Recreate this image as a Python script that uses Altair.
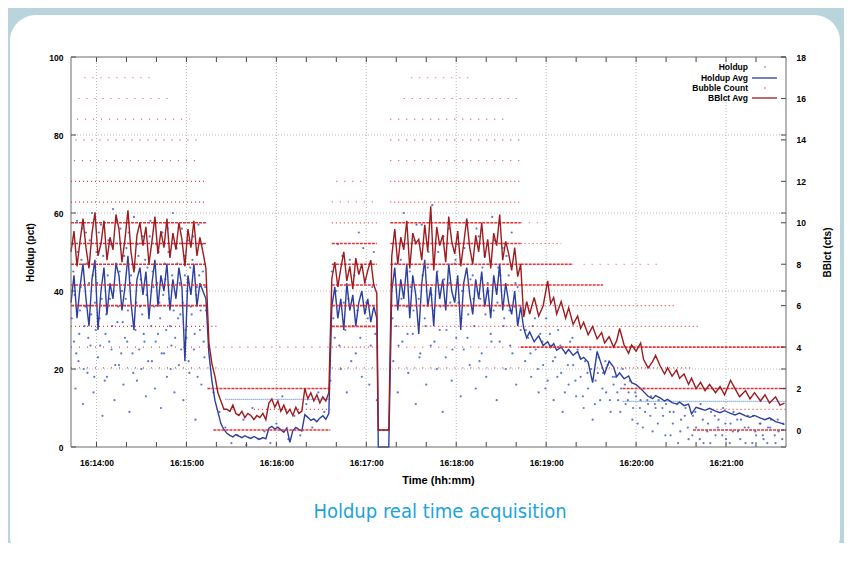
import altair as alt
import pandas as pd

# Times are seconds relative to 16:14:00
BASE = pd.Timestamp("2023-05-10 16:14:00")

avg_t = [
    -17, -15, -13, -11, -9, -7, -5, -3, -1, 1, 3, 5, 7, 9, 11, 13, 15, 17, 19, 21, 23, 25, 27, 29, 31,
    33, 35, 37, 39, 41, 43, 45, 47, 49, 51, 53, 55, 57, 59, 61, 63, 65, 67, 69, 71, 73,
    75, 77, 79, 81, 83, 85,
    87, 89, 91, 93, 95, 97, 99, 101, 103, 105, 107, 109, 111, 113, 115, 117, 119, 121, 123, 125,
    127, 129, 131, 133, 135, 137, 139, 141, 143, 145, 147, 149, 151, 153, 155,
    157, 159, 161, 163, 165, 167, 169, 171, 173, 175, 177, 179, 181, 183, 185, 187,
    188, 195,
    197, 199, 201, 203, 205, 207, 209, 211, 213, 215, 217, 219, 221, 223, 225, 227, 229, 231, 233, 235,
    237, 239, 241, 243, 245, 247, 249, 251, 253, 255, 257, 259, 261, 263, 265, 267, 269, 271, 273, 275,
    277, 279, 281, 283,
    285, 287, 289, 292, 295, 298, 301, 303, 305, 307, 310, 313, 315, 318, 321, 323, 325, 328, 331, 334,
    337, 339, 342, 345, 347, 349, 352, 355, 357, 360, 363, 365, 368, 371, 373, 376, 379, 381, 384, 387,
    389, 392, 395, 397, 400, 403, 406, 409, 413, 416, 419, 423, 426, 429, 433, 436, 439, 443, 446, 449,
    453, 456, 459,
]

holdup_avg = [
    37, 44, 33, 41, 47, 38, 31, 43, 48, 30, 40, 46, 34, 42, 38, 47, 44, 35, 41, 49, 37, 30, 43, 46, 39,
    45, 33, 42, 48, 36, 44, 40, 47, 35, 43, 38, 46, 41, 22, 44, 39, 47, 36, 42, 40, 38,
    24, 17, 12, 9, 6, 4.5,
    3.5, 3.0, 2.6, 3.2, 2.8, 2.4, 2.9, 2.5, 2.2, 2.7, 2.3, 2.0, 2.4, 2.1, 4.8, 5.3, 4.6, 5.1, 4.4, 3.8,
    4.9, 1.2, 4.2, 5.0, 4.5, 4.1, 8.3, 7.6, 6.8, 7.2, 6.5, 7.4, 8.0, 7.1, 8.6,
    36, 41, 33, 38, 30, 42, 35, 39, 31, 37, 40, 34, 38, 32, 36, 33,
    0, 0,
    40, 46, 35, 43, 38, 47, 33, 44, 39, 29, 42, 48, 36, 41, 31, 45, 38, 43, 35, 47,
    40, 37, 44, 30, 42, 46, 39, 34, 43, 38, 45, 36, 41, 33, 44, 39, 47, 35, 42, 37,
    34, 40, 31, 36,
    30.5, 28, 29.5, 27, 28.5, 26, 27, 25.5, 26.5, 24.8, 25.6, 24, 25, 23.5, 24.5, 22.5, 23, 21.8, 16.5, 24.5,
    21, 18.8, 22, 20.5, 18, 19, 17.5, 18.2, 16.5, 16, 15, 14.2, 13, 12.4, 13.2, 12.6, 11.8, 12.2, 11.4, 11.0,
    11.5, 10.6, 11.0, 8.5, 10.2, 9.8, 9.4, 9.9, 9.2, 8.8, 9.3, 8.6, 8.2, 8.7, 8.0, 7.6, 8.1, 7.4, 7.0, 7.5,
    6.5, 6.2, 5.8,
]

bblct_avg = [
    8.6, 9.6, 7.9, 9.1, 10.2, 8.8, 7.8, 9.5, 10.5, 8.4, 9.0, 10.1, 8.2, 9.3, 8.7, 10.4, 9.7, 8.1, 9.2, 10.6,
    8.6, 7.6, 9.4, 10.0, 8.9, 9.8, 8.0, 9.1, 10.3, 8.5, 9.6, 8.8, 10.2, 8.3, 9.5, 8.7, 10.0, 9.2, 7.9, 9.7,
    8.8, 10.1, 8.4, 9.3, 8.6, 7.8,
    4.2, 3.2, 2.6, 1.8, 1.4, 1.0,
    1.0, 0.9, 1.2, 0.8, 0.7, 0.9, 0.6, 0.8, 0.7, 0.5, 0.7, 0.6, 0.8, 0.5, 1.3, 1.5, 1.1, 1.4, 0.9, 1.2,
    0.8, 1.0, 0.7, 1.1, 0.8, 0.9, 2.0, 1.5, 1.8, 1.4, 1.7, 1.3, 1.6, 1.4, 1.8,
    7.3, 8.1, 6.9, 7.8, 8.6, 7.2, 7.9, 6.8, 8.3, 7.5, 8.0, 7.1, 7.7, 8.2, 7.0, 6.6,
    0, 0,
    8.4, 9.7, 8.0, 9.3, 8.7, 10.1, 7.8, 9.5, 9.0, 9.2, 8.2, 9.9, 8.6, 10.8, 7.7, 9.8, 8.9, 9.4, 8.1, 10.3,
    9.1, 8.5, 9.6, 7.9, 9.0, 10.2, 8.8, 8.0, 9.4, 8.6, 10.0, 8.3, 9.2, 7.8, 9.5, 8.9, 10.4, 8.2, 9.1, 8.5,
    7.7, 8.8, 7.4, 8.0,
    5.45, 6.2, 5.6, 6.4, 5.5, 6.0, 7.2, 6.1, 6.4, 5.6, 6.2, 5.4, 5.9, 5.1, 5.5, 4.9, 5.2, 4.6, 5.0, 4.4,
    4.7, 4.2, 4.5, 4.0, 4.3, 4.9, 4.1, 3.7, 4.1, 3.8, 4.2, 3.4, 3.0, 3.3, 3.6, 3.1, 2.7, 3.0, 2.6, 2.9,
    2.5, 2.7, 2.2, 2.5, 2.0, 2.3, 1.9, 2.2, 1.8, 2.1, 1.7, 2.4, 2.0, 1.6, 1.9, 1.5, 1.8, 1.4, 1.7, 1.3,
    1.6, 1.2, 1.3,
]

# Raw holdup samples (time s, holdup pct)
holdup_points = [
    (-16, 52), (-15, 27), (-14, 15), (-13, 58), (-12, 22), (-11, 35), (-10, 48), (-9, 11), (-8, 31), (-7, 55),
    (-6, 19), (-5, 42), (-4, 26), (-3, 60), (-2, 14), (-1, 37), (0, 50), (1, 23), (2, 33), (3, 57), (4, 8),
    (5, 45), (6, 29), (7, 18), (8, 53), (9, 38), (10, 25), (11, 61), (12, 12), (13, 47), (14, 32), (15, 21),
    (16, 56), (17, 40), (18, 16), (19, 28), (20, 51), (21, 35), (22, 9), (23, 44), (24, 24), (25, 59),
    (26, 30), (27, 17), (28, 49), (29, 36), (30, 20), (31, 54), (32, 27), (33, 13), (34, 46), (35, 33),
    (36, 58), (37, 22), (38, 41), (39, 15), (40, 52), (41, 29), (42, 37), (43, 10), (44, 55), (45, 24),
    (46, 43), (47, 18), (48, 50), (49, 31), (50, 26), (51, 60), (52, 14), (53, 39), (54, 47), (55, 21),
    (56, 34), (57, 56), (58, 12), (59, 44), (60, 28), (61, 53), (62, 19), (63, 36), (64, 48), (65, 25),
    (66, 7), (67, 41), (68, 57), (69, 30), (70, 16), (71, 45), (72, 23), (73, 35),
    (-16.5, 33), (-15.5, 45), (-14.5, 39), (-13.5, 24), (-12.5, 50), (-11.5, 29), (-10.5, 41), (-9.5, 56),
    (-8.5, 20), (-7.5, 36), (-6.5, 47), (-5.5, 28), (-4.5, 53), (-3.5, 34), (-2.5, 44), (-1.5, 18),
    (-0.5, 30), (0.5, 42), (1.5, 55), (2.5, 26), (3.5, 38), (4.5, 49), (5.5, 17), (6.5, 34), (7.5, 44),
    (8.5, 27), (9.5, 52), (10.5, 31), (11.5, 40), (12.5, 21), (13.5, 58), (14.5, 36), (15.5, 45),
    (16.5, 24), (17.5, 32), (18.5, 49), (19.5, 38), (20.5, 27), (21.5, 55), (22.5, 42), (23.5, 31),
    (24.5, 19), (25.5, 46), (26.5, 37), (27.5, 52), (28.5, 25), (29.5, 43), (30.5, 34), (31.5, 29),
    (32.5, 48), (33.5, 39), (34.5, 22), (35.5, 54), (36.5, 31), (37.5, 45), (38.5, 36), (39.5, 27),
    (40.5, 42), (41.5, 50), (42.5, 33), (43.5, 24), (44.5, 39), (45.5, 47), (46.5, 30), (47.5, 56),
    (48.5, 38), (49.5, 20), (50.5, 44), (51.5, 35), (52.5, 28), (53.5, 51), (54.5, 33), (55.5, 42),
    (56.5, 25), (57.5, 37), (58.5, 49), (59.5, 30), (60.5, 40), (61.5, 22), (62.5, 46), (63.5, 34),
    (64.5, 54), (65.5, 29), (66.5, 39), (67.5, 18), (68.5, 44), (69.5, 35), (70.5, 52), (71.5, 27),
    (72.5, 41),
    (78, 14), (82, 9), (86, 5), (90, 1), (94, 3), (98, 7), (100, 0.5), (104, 10), (108, 2), (112, 4),
    (116, 1), (120, 6), (124, 13), (128, 2), (132, 8), (136, 3), (140, 11), (144, 5), (148, 14), (152, 9),
    (156, 17),
    (157, 45), (159, 28), (161, 52), (163, 20), (165, 37), (167, 14), (169, 48), (171, 31), (173, 24),
    (175, 55), (177, 18), (179, 42), (181, 33), (183, 26), (185, 50), (187, 12),
    (158, 33), (160, 40), (162, 26), (164, 49), (166, 30), (168, 38), (170, 22), (172, 44), (174, 35),
    (176, 28), (178, 51), (180, 37), (182, 16), (184, 41), (186, 29),
    (197, 40), (198, 22), (199, 55), (200, 31), (201, 14), (203, 48), (204, 27), (205, 60), (207, 36),
    (208, 19), (209, 45), (211, 29), (212, 53), (213, 11), (215, 38), (216, 24), (217, 57), (219, 33),
    (220, 16), (221, 46), (223, 26), (224, 62), (225, 35), (227, 20), (228, 50), (229, 30), (231, 9),
    (232, 43), (233, 23), (235, 56), (236, 37), (237, 17), (239, 47), (240, 28), (241, 52), (243, 13),
    (244, 40), (245, 25), (247, 58), (248, 34), (249, 21), (251, 44), (252, 31), (253, 15), (255, 54),
    (256, 38), (257, 24), (259, 49), (260, 18), (261, 42), (263, 29), (264, 59), (265, 35), (267, 12),
    (268, 46), (269, 27), (271, 51), (272, 33), (273, 20), (275, 44), (276, 26), (277, 55), (279, 36),
    (280, 16), (281, 41), (283, 30),
    (197.5, 33), (199.5, 47), (201.5, 26), (203.5, 38), (205.5, 52), (207.5, 29), (209.5, 41), (211.5, 35),
    (213.5, 57), (215.5, 23), (217.5, 44), (219.5, 31), (221.5, 50), (223.5, 39), (225.5, 27), (227.5, 45),
    (229.5, 36), (231.5, 54), (233.5, 30), (235.5, 42), (237.5, 25), (239.5, 48), (241.5, 37), (243.5, 33),
    (245.5, 51), (247.5, 28), (249.5, 43), (251.5, 38), (253.5, 56), (255.5, 22), (257.5, 46), (259.5, 34),
    (261.5, 40), (263.5, 27), (265.5, 53), (267.5, 37), (269.5, 44), (271.5, 31), (273.5, 49), (275.5, 35),
    (277.5, 24), (279.5, 42), (281.5, 33),
    (285, 35), (286, 22), (288, 28), (290, 18), (291, 31), (293, 25), (295, 14), (296, 29), (298, 21),
    (300, 33), (301, 17), (303, 26), (305, 12), (306, 23), (308, 30), (310, 19), (311, 9), (313, 24),
    (315, 16), (316, 27), (318, 21), (320, 13), (321, 25), (323, 18), (325, 10), (326, 22), (328, 15),
    (330, 20), (331, 7), (333, 17), (335, 23), (336, 12), (338, 19), (340, 14), (341, 21), (343, 9),
    (345, 16), (346, 18), (348, 12), (350, 15), (351, 20), (353, 11), (355, 14), (356, 17), (358, 10),
    (360, 13), (361, 6), (363, 12), (365, 15), (366, 9), (368, 11), (370, 13), (371, 4), (373, 10),
    (375, 12), (378, 8), (380, 11), (383, 3), (385, 9), (388, 1), (390, 7), (393, 10), (395, 2), (398, 8),
    (400, 5), (403, 11), (405, 1), (408, 6), (410, 9), (413, 3), (415, 7), (418, 10), (420, 2), (423, 6),
    (425, 9), (428, 4), (430, 7), (433, 1), (435, 5), (438, 8), (440, 3), (443, 6), (445, 2), (448, 5),
    (450, 7), (453, 1), (455, 4), (458, 6),
    (286.5, 30), (289.5, 24), (292.5, 33), (294.5, 20), (297.5, 27), (299.5, 15), (302.5, 29), (304.5, 22),
    (307.5, 18), (309.5, 26), (312.5, 14), (314.5, 21), (317.5, 28), (319.5, 17), (322.5, 23), (324.5, 13),
    (327.5, 19), (329.5, 25), (332.5, 11), (334.5, 19), (337.5, 15), (339.5, 22), (342.5, 12), (344.5, 18),
    (347.5, 14), (349.5, 9), (352.5, 16), (354.5, 12), (357.5, 7), (359.5, 14), (362.5, 10), (364.5, 5),
    (367.5, 12), (369.5, 8), (372.5, 11), (374.5, 6), (377.5, 10), (379.5, 3), (382.5, 9), (384.5, 6),
    (387.5, 11), (389.5, 4), (392.5, 8), (394.5, 5), (397.5, 3), (399.5, 9), (402.5, 2), (404.5, 7),
    (407.5, 4), (409.5, 1), (412.5, 8), (414.5, 5), (417.5, 3), (419.5, 6), (422.5, 1), (424.5, 4),
    (427.5, 7), (429.5, 2), (432.5, 5), (434.5, 8), (437.5, 1), (439.5, 4), (442.5, 6), (444.5, 3),
    (447.5, 1), (449.5, 5), (452.5, 3), (454.5, 7), (457.5, 2),
]

# Dense runs of raw holdup samples at a constant level (t0, t1, holdup)
holdup_runs = [(86, 156, 12.2), (351, 460, 11.7)]

# Bubble count samples: integer levels, time spans and density of samples
bubble_runs = [
    (3, -17, 73, "sparse"), (4, -17, 73, "sparse"), (5, -17, 73, "medium"), (6, -17, 73, "dense"),
    (7, -17, 73, "dense"), (8, -17, 73, "dense"), (9, -17, 73, "dense"), (10, -17, 73, "dense"),
    (11, -17, 73, "medium"), (12, -17, 73, "medium"), (13, -15, 70, "sparse"), (14, -14, 68, "sparse"),
    (15, -13, 62, "sparse"), (16, -12, 50, "sparse"), (17, -8, 40, "sparse"),
    (2, 74, 156, "dense"), (0, 78, 156, "dense"), (1, 105, 156, "medium"), (4, 74, 156, "sparse"),
    (3, 74, 84, "sparse"), (5, 74, 80, "medium"), (1, 80, 95, "sparse"),
    (3, 157, 187, "sparse"), (4, 157, 187, "medium"), (5, 157, 187, "dense"), (6, 157, 187, "dense"),
    (7, 157, 187, "dense"), (8, 157, 187, "dense"), (9, 157, 187, "dense"), (10, 157, 187, "medium"),
    (11, 157, 187, "sparse"), (12, 160, 180, "sparse"),
    (0, 188, 196, "dense"),
    (3, 196, 283, "sparse"), (4, 196, 283, "sparse"), (5, 196, 283, "medium"), (6, 196, 283, "dense"),
    (7, 196, 283, "dense"), (8, 196, 283, "dense"), (9, 196, 283, "dense"), (10, 196, 283, "dense"),
    (11, 196, 283, "medium"), (12, 196, 283, "medium"), (13, 196, 283, "sparse"), (14, 196, 283, "sparse"),
    (15, 196, 272, "sparse"), (16, 205, 283, "sparse"), (17, 210, 250, "sparse"),
    (8, 283, 318, "dense"), (8, 325, 378, "sparse"), (9, 283, 310, "medium"), (10, 283, 300, "sparse"),
    (7, 283, 338, "dense"), (6, 283, 387, "medium"), (5, 283, 403, "medium"), (4, 283, 460, "dense"),
    (3, 334, 398, "medium"), (2, 351, 460, "dense"), (1, 411, 460, "medium"), (0, 398, 460, "dense"),
]

x_minutes = [14, 15, 16, 17, 18, 19, 20, 21]
left_ticks = [0, 20, 40, 60, 80, 100]
right_ticks = [0, 2, 4, 6, 8, 10, 12, 14, 16, 18]


def to_ts(s):
    return BASE + pd.Timedelta(seconds=s)


avg_df = pd.DataFrame({"time": [to_ts(s) for s in avg_t], "holdup": holdup_avg, "bblct": bblct_avg})
dots_df = pd.DataFrame({"time": [to_ts(p[0]) for p in holdup_points], "holdup": [p[1] for p in holdup_points]})
hruns_df = pd.DataFrame({"t0": [to_ts(r[0]) for r in holdup_runs], "t1": [to_ts(r[1]) for r in holdup_runs],
                         "holdup": [r[2] for r in holdup_runs]})
bruns_df = pd.DataFrame({"level": [r[0] for r in bubble_runs], "t0": [to_ts(r[1]) for r in bubble_runs],
                         "t1": [to_ts(r[2]) for r in bubble_runs], "style": [r[3] for r in bubble_runs]})
xtick_df = pd.DataFrame({"time": pd.date_range(BASE, periods=23, freq="20s")})
xgrid_df = pd.DataFrame({"time": [BASE.replace(minute=m) for m in x_minutes]})
ltick_df = pd.DataFrame({"v": left_ticks})
lgrid_df = pd.DataFrame({"v": left_ticks[1:-1]})
rtick_df = pd.DataFrame({"v": right_ticks})
one = pd.DataFrame({"a": [0]})

FONT = "Liberation Sans, Arial, sans-serif"
W, H = 715, 390


def dt(h, m, s):
    return alt.DateTime(year=2023, month=5, date=10, hours=h, minutes=m, seconds=s)


xscale = alt.Scale(domain=[dt(16, 13, 43), dt(16, 21, 40)])
xaxis = alt.Axis(values=[dt(16, m, 0) for m in x_minutes], format="%H:%M:%S", grid=False, ticks=False,
                 domain=False, labelFontSize=8.5, labelPadding=11, title="Time (hh:mm)", titleFontSize=11,
                 titleX=367, titleY=33, titleBaseline="middle", titleAlign="center", zindex=2)
lscale = alt.Scale(domain=[0, 100], nice=False, zero=False)
laxis = alt.Axis(orient="left", values=left_ticks, grid=False, ticks=False, domain=False, labelFontSize=8.5,
                 labelPadding=8, title="Holdup (pct)", titleFontSize=10, titleAngle=270, titleX=-41,
                 titleY=195, titleBaseline="middle", titleAlign="center", zindex=2)
rscale = alt.Scale(domain=[-0.82, 18], nice=False, zero=False)
raxis = alt.Axis(orient="right", values=right_ticks, grid=False, ticks=False, domain=False, labelFontSize=8.5,
                 labelPadding=10, title="BBlct (cts)", titleFontSize=10, titleAngle=270, titleX=41,
                 titleY=195, titleBaseline="middle", titleAlign="center", zindex=2)


def XF(f):
    return alt.X(f"{f}:T", scale=xscale, axis=xaxis)


def YL(f):
    return alt.Y(f"{f}:Q", scale=lscale, axis=laxis)


def YR(f):
    return alt.Y(f"{f}:Q", scale=rscale, axis=raxis)


BLUE_DOT = "#3558c0"
BLUE_LINE = "#2c3f9e"
RED_DOT = "#e8262a"
RED_LINE = "#9c1c1f"
TICK = "#444444"

card = alt.Chart(one).mark_rect(color="white", cornerRadius=26).encode(
    x=alt.value(-61), x2=alt.value(769), y=alt.value(-42), y2=alt.value(505))

xgrid = alt.Chart(xgrid_df).mark_rule(color="#a8a8a8", strokeDash=[1, 2], strokeWidth=0.8).encode(x=XF("time"))
ygrid = alt.Chart(lgrid_df).mark_rule(color="#a8a8a8", strokeDash=[1, 2], strokeWidth=0.8).encode(y=YL("v"))
dots = alt.Chart(dots_df).mark_circle(size=5, color=BLUE_DOT, opacity=0.8).encode(x=XF("time"), y=YL("holdup"))
hruns = alt.Chart(hruns_df).mark_rule(color="#5b8fd8", strokeDash=[1, 1], strokeWidth=1.2).encode(
    x=XF("t0"), x2="t1:T", y=YL("holdup"))
hline = alt.Chart(avg_df).mark_line(color=BLUE_LINE, strokeWidth=1.4).encode(x=XF("time"), y=YL("holdup"))
lt_left = alt.Chart(ltick_df).mark_rule(color=TICK).encode(y=YL("v"), x=alt.value(0), x2=alt.value(5))
lt_right = alt.Chart(ltick_df).mark_rule(color=TICK).encode(y=YL("v"), x=alt.value(W - 5), x2=alt.value(W))
xt_bottom = alt.Chart(xtick_df).mark_rule(color=TICK).encode(x=XF("time"), y=alt.value(H), y2=alt.value(H - 5))
xt_top = alt.Chart(xtick_df).mark_rule(color=TICK).encode(x=XF("time"), y=alt.value(0), y2=alt.value(5))

left_group = alt.layer(xgrid, ygrid, dots, hruns, hline, lt_left, lt_right, xt_bottom, xt_top)

styles = {"dense": ([3, 1], 1.6, 0.95), "medium": ([1, 3], 1.2, 0.9), "sparse": ([1, 7], 1.1, 0.85)}
brules = []
for name, (dash, sw, op) in styles.items():
    brules.append(
        alt.Chart(bruns_df).transform_filter(alt.datum.style == name)
        .mark_rule(color=RED_DOT, strokeDash=dash, strokeWidth=sw, opacity=op)
        .encode(x=XF("t0"), x2="t1:T", y=YR("level"))
    )
bline = alt.Chart(avg_df).mark_line(color=RED_LINE, strokeWidth=1.4).encode(x=XF("time"), y=YR("bblct"))
rt = alt.Chart(rtick_df).mark_rule(color=TICK).encode(y=YR("v"), x=alt.value(W - 5), x2=alt.value(W))

right_group = alt.layer(*brules, bline, rt)

frame = alt.Chart(one).mark_rect(fill="transparent", stroke="#6a6a6a", strokeWidth=1).encode(
    x=alt.value(0), x2=alt.value(W), y=alt.value(0), y2=alt.value(H))

legend_items = [("Holdup", 10), ("Holdup Avg", 21), ("Bubble Count", 31), ("BBlct Avg", 41)]
legend_layers = []
for label, yy in legend_items:
    legend_layers.append(
        alt.Chart(one).mark_text(text=label, align="right", baseline="middle", font=FONT, fontWeight="bold",
                                 fontSize=8.5, color="black").encode(x=alt.value(677), y=alt.value(yy)))
legend_layers.append(alt.Chart(one).mark_circle(size=4, color=BLUE_DOT, opacity=0.5).encode(
    x=alt.value(694), y=alt.value(10)))
legend_layers.append(alt.Chart(one).mark_rule(color=BLUE_LINE, strokeWidth=1.3).encode(
    x=alt.value(681), x2=alt.value(706), y=alt.value(21)))
legend_layers.append(alt.Chart(one).mark_circle(size=4, color=RED_DOT, opacity=0.5).encode(
    x=alt.value(694), y=alt.value(31)))
legend_layers.append(alt.Chart(one).mark_rule(color=RED_LINE, strokeWidth=1.3).encode(
    x=alt.value(681), x2=alt.value(706), y=alt.value(41)))

caption = alt.Chart(one).mark_text(
    text="Holdup real time acquisition", align="center", baseline="middle",
    font="Liberation Sans Narrow, DejaVu Sans Condensed, Roboto, sans-serif", fontSize=20, color="#1ca3dd"
).encode(x=alt.value(369), y=alt.value(455))

chart = alt.layer(card, left_group, right_group, frame, *legend_layers, caption).resolve_scale(
    y="independent"
).properties(
    width=W, height=H, autosize=alt.AutoSizeParams(type="none"),
    padding={"left": 63, "top": 49, "right": 58, "bottom": 96},
).configure(background="#bad4dc").configure_view(strokeWidth=0).configure_axis(
    labelFont=FONT, titleFont=FONT, labelFontWeight="bold", titleFontWeight="bold",
    labelColor="black", titleColor="black"
)

chart.save("out.html", embed_options={"renderer": "svg", "actions": False})
